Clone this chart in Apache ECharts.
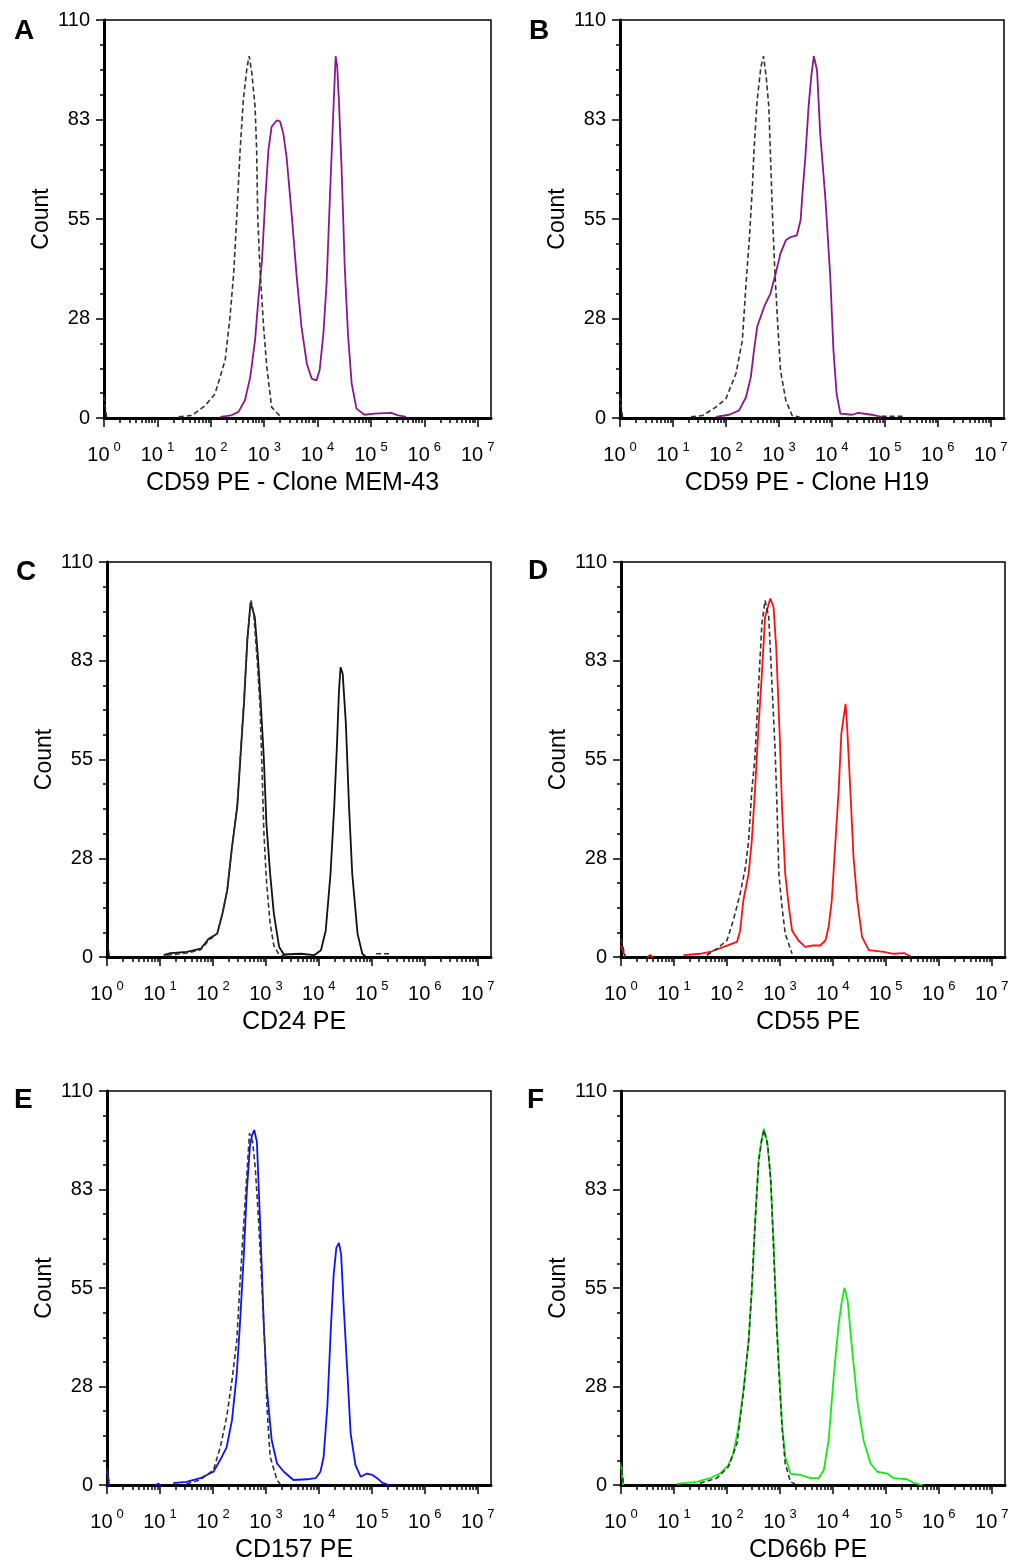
<!DOCTYPE html>
<html><head><meta charset="utf-8">
<script src="https://cdn.jsdelivr.net/npm/echarts@6/dist/echarts.min.js"></script>
<style>html,body{margin:0;padding:0;background:#fff}#c{width:1017px;height:1564px}</style>
</head><body><div id="c"></div>
<script>
// ---------- tick labels / categories ----------
const panelLetters = ['A', 'B', 'C', 'D', 'E', 'F'];
const xTitles = ['CD59 PE - Clone MEM-43', 'CD59 PE - Clone H19', 'CD24 PE', 'CD55 PE', 'CD157 PE', 'CD66b PE'];
const yTitle = 'Count';
const decadeExponents = [0, 1, 2, 3, 4, 5, 6, 7];   // x labels 10^0 .. 10^7 (log10 of intensity)
const yTickValues = [0, 27.5, 55, 82.5, 110];         // labelled 0, 28, 55, 83, 110
const sampleColors = ['#8b178b', '#8b178b', '#111111', '#ff1010', '#1010ff', '#10ee10'];

// ---------- series values: [log10(intensity), count]; null = gap ----------
const A_sample = [[2.18,0.3],[2.38,0.7],[2.52,1.7],[2.64,4.9],[2.74,11.3],[2.83,21.5],[2.89,32.5],[2.96,43.6],[3.02,60.2],[3.08,74],[3.14,80.5],[3.24,82.3],[3.30,81.9],[3.36,78.6],[3.42,72.2],[3.52,55.6],[3.61,39],[3.70,25.2],[3.80,15],[3.89,10.9],[3.98,10.4],[4.04,13.2],[4.11,23.3],[4.17,37.2],[4.23,60.2],[4.26,71.3],[4.31,89.7],[4.34,100],[4.37,97],[4.40,87.9],[4.45,69.4],[4.51,41.8],[4.57,23.3],[4.64,9.5],[4.73,2.6],[4.88,0.9],[5.07,1.2],[5.38,1.4],[5.51,0.7],[5.66,0.3]];
const A_isotype = [[0,6],[0.05,0],[0.06,null],[1.40,0.3],[1.65,0.7],[1.90,3.5],[2.08,6.7],[2.27,16],[2.36,27.9],[2.43,40],[2.49,56.5],[2.55,74],[2.61,87.9],[2.68,97],[2.72,100],[2.77,95.3],[2.83,86],[2.86,74],[2.88,55.6],[2.92,41.8],[2.99,25.2],[3.05,14.1],[3.14,3],[3.30,0.5]];

const B_sample = [[1.81,0.3],[2.06,0.9],[2.25,2.1],[2.38,5.8],[2.47,11.3],[2.53,18.7],[2.59,25.2],[2.72,30.7],[2.84,34.4],[2.94,40],[3.03,45.5],[3.13,49.1],[3.22,50],[3.34,50.5],[3.41,54.7],[3.44,61.1],[3.50,72.2],[3.56,86],[3.61,94.3],[3.66,100],[3.72,96.1],[3.78,78.6],[3.88,60.2],[3.97,39],[4.03,18.7],[4.09,6.7],[4.16,1.2],[4.38,0.9],[4.50,1.4],[4.75,0.9],[4.94,0.3]];
const B_isotype = [[0,6],[0.05,0],[0.06,null],[1.34,0.3],[1.56,0.7],[1.81,3],[2.0,5.3],[2.19,12.3],[2.31,21.5],[2.38,37.2],[2.44,49.1],[2.50,63.9],[2.53,74],[2.59,87.9],[2.66,97],[2.71,100],[2.76,94.3],[2.81,86],[2.84,73.1],[2.88,55.6],[2.92,41.8],[2.97,27.9],[3.03,13.2],[3.13,4.9],[3.25,0.7],[3.4,0.2],[3.5,null],[4.94,0.5],[5.34,0.5]];

const C_sample = [[0,4.6],[0.04,0],[0.05,null],[1.07,0.5],[1.2,1.1],[1.51,1.4],[1.77,2.3],[1.92,5.1],[2.08,6.5],[2.18,12.1],[2.27,18.6],[2.36,30.6],[2.46,41.8],[2.52,55.7],[2.59,71.5],[2.65,88.2],[2.71,98.8],[2.74,99.3],[2.79,94.7],[2.85,83.5],[2.90,71.5],[2.96,55.7],[3.01,37.1],[3.08,23.2],[3.15,12.1],[3.25,2.8],[3.34,0.7],[3.66,0.9],[3.91,0.5],[4.04,1.9],[4.13,7.4],[4.22,23.2],[4.29,41.8],[4.34,58.5],[4.38,74.2],[4.41,80.7],[4.45,78.9],[4.51,65],[4.57,41.8],[4.63,23.2],[4.73,6.5],[4.82,0.9],[4.89,0]];
const C_isotype = [[1.13,0.5],[1.51,1.1],[1.77,2],[1.92,4.6],[2.08,6.5],[2.18,12.1],[2.27,18.6],[2.36,30.6],[2.46,42.7],[2.52,56.6],[2.59,72.4],[2.65,89.1],[2.72,99.3],[2.77,95.6],[2.84,81.7],[2.89,69.6],[2.93,51],[2.96,35.3],[3.01,21.3],[3.08,9.3],[3.15,3.2],[3.25,0.6],[3.40,0.2],[3.5,null],[5.08,0.9],[5.33,0.9]];

const D_sample = [[0,3.2],[0.08,0],[0.09,null],[0.5,0],[0.55,0.6],[0.6,0],[0.61,null],[1.18,0.5],[1.49,0.9],[1.68,1.4],[1.94,2.8],[2.19,4.2],[2.25,7.4],[2.31,15.8],[2.41,23.2],[2.47,32.5],[2.53,46.4],[2.60,65],[2.66,78.9],[2.72,94.7],[2.79,98.4],[2.82,99.8],[2.88,97.4],[2.93,86.3],[3.00,60.3],[3.04,41.8],[3.10,23.2],[3.17,13.9],[3.23,7.4],[3.35,4.6],[3.48,2.8],[3.61,3.2],[3.76,3.2],[3.86,4.6],[3.92,8.4],[3.98,15.8],[4.05,32.5],[4.11,46.4],[4.16,62.2],[4.24,70.5],[4.27,64],[4.33,46.4],[4.39,27.8],[4.46,15.8],[4.55,5.6],[4.68,1.9],[4.96,1.4],[5.15,0.9],[5.34,1.1],[5.47,0.2]];
const D_isotype = [[0,5.1],[0.08,0],[0.09,null],[1.62,0.5],[1.81,2.3],[2.0,4.6],[2.12,10.2],[2.25,17.6],[2.35,25],[2.41,32.5],[2.47,46.4],[2.53,55.7],[2.60,76.1],[2.66,92.8],[2.72,99.3],[2.79,94.7],[2.85,76.1],[2.91,57.5],[2.94,44.5],[2.98,23.2],[3.04,13.9],[3.10,6.5],[3.23,0.9]];

const E_sample = [[0,3.7],[0.04,0],[0.05,null],[0.93,0],[0.97,0.4],[1.0,0],[1.01,null],[1.25,0.5],[1.50,0.9],[1.76,1.9],[2.01,3.7],[2.17,7.9],[2.26,10.6],[2.36,18.1],[2.45,31],[2.51,44.9],[2.58,63.4],[2.64,82],[2.70,94.9],[2.74,97.7],[2.78,99.1],[2.83,95.8],[2.89,73.6],[2.96,44.9],[3.02,26.4],[3.11,12.5],[3.21,6],[3.34,3.7],[3.52,1.4],[3.78,1.6],[3.94,1.9],[4.03,3.7],[4.09,7.9],[4.16,21.8],[4.23,44.9],[4.28,58.8],[4.33,66.2],[4.38,67.6],[4.42,64.4],[4.47,49.5],[4.54,31],[4.60,14.4],[4.69,5.6],[4.79,2.3],[4.91,3.2],[5.01,2.8],[5.10,1.9],[5.20,0.6],[5.33,0]];
const E_isotype = [[0,4.6],[0.05,0],[0.06,null],[1.5,0.3],[1.76,1.4],[2.01,4.2],[2.14,10.6],[2.26,19],[2.36,29.2],[2.45,40.3],[2.51,56],[2.58,72.7],[2.64,86.6],[2.69,98.2],[2.75,95.8],[2.80,88.4],[2.86,74.5],[2.92,56.9],[2.99,35.7],[3.02,21.8],[3.08,7.9],[3.21,1.4],[3.27,0.3]];

const F_sample = [[0,6],[0.04,0],[0.05,null],[1.05,0.3],[1.43,0.9],[1.68,1.9],[1.87,3.2],[2.03,5.6],[2.12,8.8],[2.22,16.2],[2.31,26.4],[2.41,40.3],[2.47,54.2],[2.53,72.7],[2.60,91.2],[2.66,96.8],[2.70,99.5],[2.76,95.8],[2.82,86.6],[2.88,68.1],[2.94,44.9],[2.99,31],[3.04,17.1],[3.10,7.9],[3.20,3.2],[3.39,2.8],[3.58,1.9],[3.73,1.9],[3.83,4.2],[3.92,12.5],[4.02,31],[4.11,44.9],[4.17,51.4],[4.22,55.1],[4.28,51.4],[4.36,38.4],[4.46,23.6],[4.58,12.5],[4.71,6],[4.84,3.7],[5.03,3.2],[5.15,1.9],[5.40,1.6],[5.53,0.6],[5.69,0]];
const F_isotype = [[0,6.5],[0.05,0],[0.06,null],[1.49,0.5],[1.81,1.9],[2.03,5.1],[2.19,11.6],[2.31,25.5],[2.41,40.3],[2.47,55.1],[2.53,72.7],[2.60,90.3],[2.66,96.8],[2.70,99.1],[2.77,94.9],[2.83,84.7],[2.88,66.2],[2.94,44],[2.99,29.2],[3.04,16.2],[3.10,6],[3.20,0.9],[3.29,0.3]];

const samples = [A_sample, B_sample, C_sample, D_sample, E_sample, F_sample];
const isotypes = [A_isotype, B_isotype, C_isotype, D_isotype, E_isotype, F_isotype];

// ---------- layout ----------
const FONT = '"Liberation Sans", Arial, sans-serif';
const grids = [
  {left: 104, top: 20, width: 387, height: 398},
  {left: 620, top: 20, width: 384, height: 398},
  {left: 107, top: 562, width: 384, height: 395},
  {left: 621, top: 562, width: 384, height: 395},
  {left: 107, top: 1091, width: 384, height: 396},
  {left: 621, top: 1091, width: 384, height: 396}
];
const letterPos = [[14,17],[529,17],[16,558],[528,557],[14,1086],[527,1086]];
const X_MAX = 7.25;

const minorX = [];
for (let k = 0; k < 8; k++) for (let m = 2; m <= 9; m++) {
  const v = k + Math.log10(m);
  if (v <= X_MAX) minorX.push(v);
}
const toSeriesData = arr => arr.map(p => [p[0], p[1] === null ? '-' : p[1]]);

const option = {
  animation: false,
  backgroundColor: '#fff',
  title: panelLetters.map((t, i) => ({
    text: t, left: letterPos[i][0], top: letterPos[i][1], padding: 0,
    textStyle: {fontFamily: FONT, fontSize: 28, fontWeight: 'bold', color: '#000'}
  })),
  grid: grids.map(g => Object.assign({show: true, borderColor: '#000', borderWidth: 1.5, containLabel: false}, g)),
  xAxis: [],
  yAxis: [],
  series: []
};

grids.forEach((g, i) => {
  option.xAxis.push({
    type: 'value', gridIndex: i, min: 0, max: X_MAX, interval: 1, position: 'bottom',
    name: xTitles[i], nameLocation: 'middle', nameGap: 53,
    nameTextStyle: {fontFamily: FONT, fontSize: 25, color: '#000', padding: [0, 10, 0, 0]},
    axisLine: {show: true, onZero: false, lineStyle: {color: '#000', width: 3}},
    axisTick: {show: true, customValues: decadeExponents, length: 9, lineStyle: {color: '#000', width: 1.5}},
    splitLine: {show: false},
    axisLabel: {
      customValues: decadeExponents, margin: 23, color: '#000',
      formatter: v => '{b|10}{s|' + v + '}',
      rich: {
        b: {fontFamily: FONT, fontSize: 20, lineHeight: 24, color: '#000', verticalAlign: 'bottom'},
        s: {fontFamily: FONT, fontSize: 13, lineHeight: 14, color: '#000', verticalAlign: 'top', padding: [0, 0, 0, 4]}
      }
    }
  });
  option.xAxis.push({
    type: 'value', gridIndex: i, min: 0, max: X_MAX, position: 'bottom',
    axisLine: {show: false, onZero: false},
    axisTick: {show: true, inside: false, customValues: minorX, length: 5, lineStyle: {color: '#000', width: 1.5}},
    axisLabel: {show: false},
    splitLine: {show: false}
  });
  option.yAxis.push({
    type: 'value', gridIndex: i, min: 0, max: 110, interval: 27.5,
    name: yTitle, nameLocation: 'middle', nameGap: 51,
    nameTextStyle: {fontFamily: FONT, fontSize: 23, color: '#000'},
    axisLine: {show: true, lineStyle: {color: '#000', width: 3}},
    axisTick: {show: true, length: 8, lineStyle: {color: '#000', width: 1.5}},
    minorTick: {show: true, splitNumber: 4, length: 4, lineStyle: {color: '#000', width: 1.5}},
    splitLine: {show: false},
    minorSplitLine: {show: false},
    axisLabel: {fontFamily: FONT, fontSize: 20, color: '#000', margin: 14, formatter: v => String(Math.round(v))}
  });
  option.series.push({
    type: 'line', xAxisIndex: 2 * i, yAxisIndex: i, data: toSeriesData(samples[i]),
    showSymbol: false, connectNulls: false, clip: true,
    lineStyle: {color: sampleColors[i], width: 1.8}
  });
  option.series.push({
    type: 'line', xAxisIndex: 2 * i, yAxisIndex: i, data: toSeriesData(isotypes[i]),
    showSymbol: false, connectNulls: false, clip: true,
    lineStyle: {color: '#333', width: 1.6, type: [5, 3]}
  });
});

const chart = echarts.init(document.getElementById('c'), null, {renderer: 'canvas'});
chart.setOption(option);
</script>
</body></html>
